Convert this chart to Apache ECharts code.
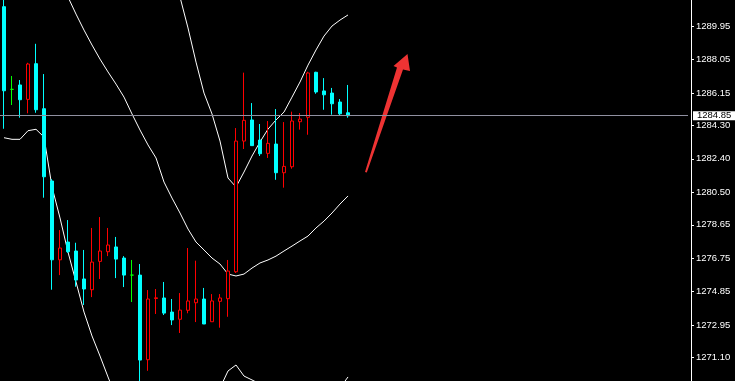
<!DOCTYPE html>
<html>
<head>
<meta charset="utf-8">
<style>
html,body{margin:0;padding:0;background:#000;}
#chart{width:735px;height:381px;}
</style>
<script src="https://cdn.jsdelivr.net/npm/echarts@6/dist/echarts.min.js"></script>
</head>
<body>
<div id="chart"></div>
<script>
// ---- data ----
var categories = ['1','2','3','4','5','6','7','8','9','10','11','12','13','14','15','16','17','18','19','20','21','22','23','24','25','26','27','28','29','30','31','32','33','34','35','36','37','38','39','40','41','42','43','44'];
var opens  = [1291.05,1286.35,1286.60,1285.78,1287.81,1285.25,1281.14,1276.66,1277.67,1277.16,1275.57,1274.96,1276.57,1277.12,1277.39,1276.76,1275.79,1275.79,1270.98,1274.46,1274.49,1273.69,1273.28,1273.79,1274.22,1274.43,1273.14,1274.30,1274.45,1275.98,1283.41,1284.61,1283.47,1282.71,1283.24,1281.61,1281.95,1284.51,1284.76,1287.32,1286.26,1286.14,1285.63,1285.02];
var closes = [1286.27,1286.35,1285.76,1287.79,1285.19,1281.38,1276.66,1277.33,1277.12,1275.51,1275.00,1276.53,1277.16,1277.50,1276.70,1275.79,1275.79,1270.96,1274.43,1274.50,1273.63,1273.24,1273.80,1274.32,1274.43,1273.01,1274.32,1274.49,1276.02,1283.41,1284.59,1283.15,1282.69,1283.28,1281.61,1281.97,1284.55,1284.66,1287.28,1286.20,1286.04,1285.53,1284.96,1284.85];
var highs  = [1291.71,1287.11,1286.88,1287.86,1288.94,1287.22,1281.25,1278.35,1278.92,1277.63,1277.22,1278.47,1279.09,1278.47,1277.96,1276.87,1276.65,1276.42,1274.94,1275.00,1275.40,1274.43,1274.77,1277.33,1276.61,1275.06,1274.71,1274.71,1276.65,1284.15,1287.30,1285.57,1284.38,1284.55,1285.23,1284.49,1285.08,1285.00,1287.35,1287.35,1286.99,1286.43,1285.80,1286.60];
var lows   = [1284.11,1285.46,1284.74,1284.99,1285.02,1280.19,1274.96,1275.79,1277.05,1275.13,1274.09,1274.54,1275.57,1276.87,1275.62,1275.11,1274.26,1269.60,1270.35,1273.58,1273.52,1272.95,1272.50,1273.62,1273.12,1273.01,1273.14,1272.80,1273.42,1275.91,1282.96,1283.15,1282.56,1282.45,1281.21,1280.76,1281.84,1284.06,1283.77,1286.10,1285.19,1284.91,1284.87,1284.74];
var bandUpper  = [1306.10,1305.93,1305.58,1304.79,1304.22,1303.76,1305.70,1306.10,1306.10,1305.87,1305.75,1305.41,1304.96,1304.67,1304.45,1303.65,1302.80,1301.95,1300.52,1298.82,1296.83,1294.27,1291.60,1289.84,1287.90,1286.14,1284.95,1283.41,1281.31,1280.80,1281.65,1282.56,1283.36,1284.09,1284.61,1285.06,1285.91,1286.77,1287.73,1288.59,1289.38,1289.95,1290.29,1290.58];
var bandMiddle = [1294.84,1294.73,1294.55,1294.38,1294.16,1293.70,1293.25,1292.57,1291.60,1290.63,1289.72,1288.87,1288.07,1287.34,1286.65,1285.91,1284.95,1284.04,1283.19,1282.45,1281.08,1280.17,1279.32,1278.41,1277.67,1277.22,1276.76,1276.42,1275.85,1275.74,1275.85,1276.19,1276.48,1276.65,1276.87,1277.16,1277.44,1277.73,1278.01,1278.47,1278.86,1279.32,1279.83,1280.29];
var bandLower  = [1283.60,1283.51,1283.51,1284.00,1284.08,1283.64,1280.80,1279.04,1277.10,1275.40,1273.69,1272.33,1271.19,1270.00,1268.86,1268.18,1267.10,1266.13,1265.85,1266.07,1265.33,1266.07,1267.04,1266.98,1267.44,1268.29,1268.57,1269.37,1270.34,1270.68,1270.05,1269.83,1269.60,1269.20,1269.14,1269.26,1268.97,1268.69,1268.29,1268.35,1268.35,1268.69,1269.37,1270.00];
var tickLabels = ['1271.10','1272.95','1274.85','1276.75','1278.65','1280.50','1282.40','1284.30','1286.15','1288.05','1289.95'];
var lastPrice = 1284.85;

// ---- build ----
var totalSlots = 86;
var xData = [];
for (var i = 0; i < totalSlots; i++) xData.push(i < categories.length ? categories[i] : '');
var candleData = opens.map(function (o, i) { return [o, closes[i], lows[i], highs[i]]; });
var tickValues = tickLabels.map(Number);

var chart = echarts.init(document.getElementById('chart'), null, {renderer: 'canvas'});
chart.setOption({
  backgroundColor: '#000000',
  animation: false,
  grid: {left: 0, top: 0, width: 688, height: 381},
  xAxis: {
    type: 'category', data: xData, boundaryGap: true, show: false
  },
  yAxis: {
    type: 'value', position: 'right', offset: 3,
    min: 1269.77, max: 1291.43, scale: true,
    splitLine: {show: false},
    axisLine: {show: true, lineStyle: {color: '#ffffff', width: 1}},
    axisTick: {show: true, length: 3, inside: false, customValues: tickValues, lineStyle: {color: '#ffffff'}},
    axisLabel: {
      show: true, customValues: tickValues, margin: 5,
      color: '#ffffff', fontFamily: 'Liberation Sans', fontSize: 9.5,
      formatter: function (v) {
        var idx = tickValues.indexOf(v);
        return idx >= 0 ? tickLabels[idx] : v.toFixed(2);
      }
    }
  },
  series: [
    {
      type: 'candlestick', data: candleData, barWidth: 4, clip: true,
      itemStyle: {
        color: '#000000', color0: '#00ffff',
        borderColor: '#ff0000', borderColor0: '#00ffff', borderColorDoji: '#00ff00',
        borderWidth: 1
      },
      markLine: {
        silent: true, symbol: ['none', 'none'],
        lineStyle: {color: '#9090a0', width: 1, type: 'solid'},
        label: {
          show: true, position: 'end', distance: 5,
          formatter: lastPrice.toFixed(2),
          backgroundColor: '#ffffff', color: '#000000',
          fontFamily: 'Liberation Sans', fontSize: 9.5, lineHeight: 9,
          padding: [0, 4, 0, 4]
        },
        data: [{yAxis: lastPrice}]
      }
    },
    {type: 'line', data: bandUpper, symbol: 'none', lineStyle: {color: '#ffffff', width: 1}, z: 1},
    {type: 'line', data: bandMiddle, symbol: 'none', lineStyle: {color: '#ffffff', width: 1}, z: 1},
    {type: 'line', data: bandLower, symbol: 'none', lineStyle: {color: '#ffffff', width: 1}, z: 1}
  ],
  graphic: [{
    type: 'polygon', silent: true,
    shape: {points: [[365, 172], [397, 67.5], [393.5, 66], [407.5, 54], [410, 71], [403, 69.5], [366.8, 172.5]]},
    style: {fill: '#ee3333'}
  }]
});
</script>
</body>
</html>
